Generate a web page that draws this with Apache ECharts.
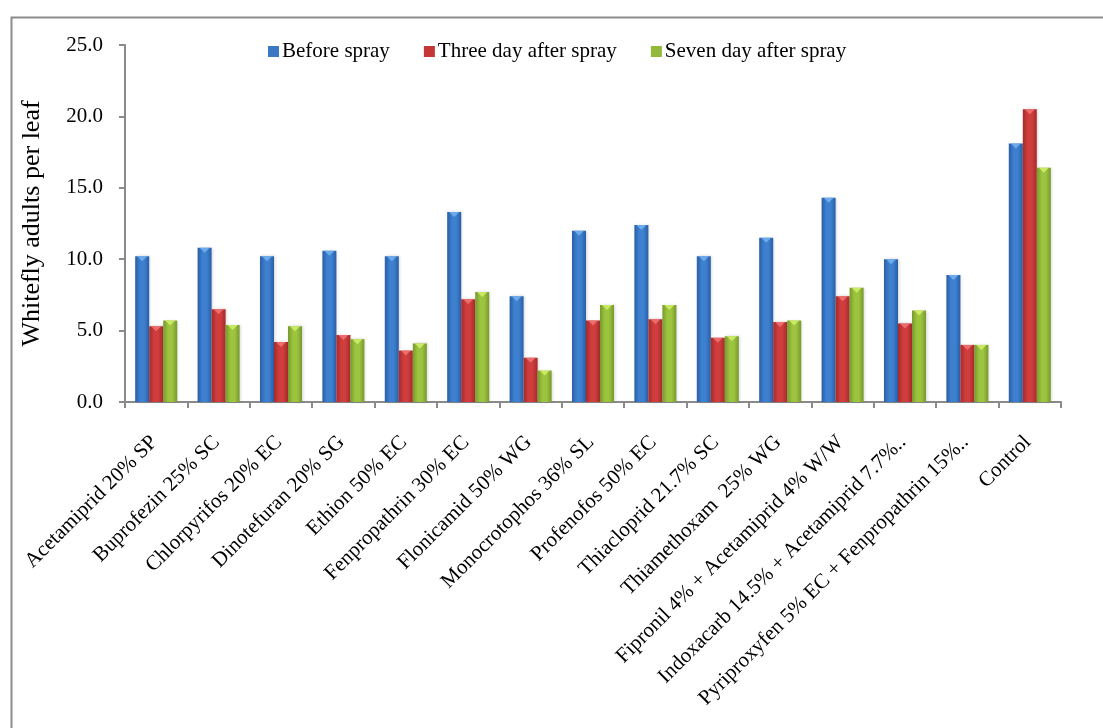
<!DOCTYPE html>
<html>
<head>
<meta charset="utf-8">
<script src="https://cdn.jsdelivr.net/npm/echarts@6/dist/echarts.min.js"></script>
<style>
  html, body { margin: 0; padding: 0; background: #ffffff; }
  #chart { width: 1103px; height: 728px; }
</style>
</head>
<body>
<div id="chart"></div>
<script>
// Treatments (insecticides) on the x axis
const categories = [
  'Acetamiprid 20% SP',
  'Buprofezin 25% SC',
  'Chlorpyrifos 20% EC',
  'Dinotefuran 20% SG',
  'Ethion 50% EC',
  'Fenpropathrin 30% EC',
  'Flonicamid 50% WG',
  'Monocrotophos 36% SL',
  'Profenofos 50% EC',
  'Thiacloprid 21.7% SC',
  'Thiamethoxam  25% WG',
  'Fipronil 4% + Acetamiprid 4% W/W',
  'Indoxacarb 14.5% + Acetamiprid 7.7%..',
  'Pyriproxyfen 5% EC + Fenpropathrin 15%..',
  'Control'
];

const seriesNames = ['Before spray', 'Three day after spray', 'Seven day after spray'];

// Whitefly adults per leaf
const beforeSpray = [10.2, 10.8, 10.2, 10.6, 10.2, 13.3, 7.4, 12.0, 12.4, 10.2, 11.5, 14.3, 10.0, 8.9, 18.1];
const threeDayAfter = [5.3, 6.5, 4.2, 4.7, 3.6, 7.2, 3.1, 5.7, 5.8, 4.5, 5.6, 7.4, 5.5, 4.0, 20.5];
const sevenDayAfter = [5.7, 5.4, 5.3, 4.4, 4.1, 7.7, 2.2, 6.8, 6.8, 4.6, 5.7, 8.0, 6.4, 4.0, 16.4];

const yTicks = { min: 0, max: 25, interval: 5 };

const FONT = '"Liberation Serif", "Times New Roman", serif';

function bevel(edge, mid) {
  return new echarts.graphic.LinearGradient(0, 0, 1, 0, [
    { offset: 0, color: edge },
    { offset: 0.35, color: mid },
    { offset: 0.65, color: mid },
    { offset: 1, color: edge }
  ]);
}

const palette = [
  { edge: '#2a5ea6', mid: '#3d80cf', cap: '#74b2f0', legend: '#3a78c4' },
  { edge: '#a52a2a', mid: '#cf3d3d', cap: '#f07474', legend: '#c43737' },
  { edge: '#77992c', mid: '#9cc43f', cap: '#d2f06a', legend: '#93b93b' }
];

const values = [beforeSpray, threeDayAfter, sevenDayAfter];

// Plain bars with a horizontal bevel gradient
const barSeries = seriesNames.map((name, i) => ({
  name,
  type: 'bar',
  data: values[i],
  barWidth: 14,
  barGap: '0%',
  itemStyle: {
    color: bevel(palette[i].edge, palette[i].mid),
    shadowColor: 'rgba(0,0,0,0.18)',
    shadowBlur: 3,
    shadowOffsetX: 1
  }
}));

// Small light triangle at the top of each bar (bevel highlight)
const capSeries = seriesNames.map((name, i) => ({
  name: name + ' cap',
  type: 'pictorialBar',
  data: values[i],
  barWidth: 14,
  barGap: '0%',
  symbol: 'triangle',
  symbolRotate: 180,
  symbolPosition: 'end',
  symbolSize: [10, 5],
  symbolOffset: [0, 0],
  z: 3,
  silent: true,
  itemStyle: { color: palette[i].cap, opacity: 0.85 }
}));

const chart = echarts.init(document.getElementById('chart'), null, { renderer: 'canvas' });

chart.setOption({
  backgroundColor: '#ffffff',
  animation: false,
  textStyle: { fontFamily: FONT },
  graphic: [{
    type: 'rect',
    left: 9, top: 15,
    shape: { width: 1120, height: 740 },
    style: { fill: 'none', stroke: '#8c8c8c', lineWidth: 2 },
    silent: true
  }],
  legend: {
    left: 268, top: 41,
    padding: 0,
    itemWidth: 11, itemHeight: 11,
    itemGap: 34,
    icon: 'rect',
    textStyle: { fontFamily: FONT, fontSize: 21, color: '#000000', padding: [0, 0, 0, -2] },
    data: seriesNames.map((n, i) => ({ name: n, itemStyle: { color: palette[i].legend } }))
  },
  grid: { left: 125, right: 42, top: 45, bottom: 326, containLabel: false },
  xAxis: {
    type: 'category',
    data: categories,
    boundaryGap: true,
    axisLine: { lineStyle: { color: '#8a8a8a', width: 2 } },
    axisTick: { show: true, length: 6, lineStyle: { color: '#8a8a8a', width: 2 } },
    axisLabel: {
      interval: 0, rotate: 45, margin: 35,
      fontFamily: FONT, fontSize: 21, color: '#000000',
      padding: [0, 3, 0, 0]
    }
  },
  yAxis: {
    type: 'value',
    min: yTicks.min, max: yTicks.max, interval: yTicks.interval,
    name: 'Whitefly adults per leaf',
    nameLocation: 'middle',
    nameGap: 80,
    nameRotate: 90,
    nameTextStyle: { fontFamily: FONT, fontSize: 26, color: '#000000' },
    axisLine: { show: true, lineStyle: { color: '#8a8a8a', width: 2 } },
    axisTick: { show: true, length: 6, lineStyle: { color: '#8a8a8a', width: 2 } },
    splitLine: { show: false },
    axisLabel: {
      margin: 22, fontFamily: FONT, fontSize: 21, color: '#000000',
      formatter: v => v.toFixed(1)
    }
  },
  series: barSeries.concat(capSeries)
});
</script>
</body>
</html>
